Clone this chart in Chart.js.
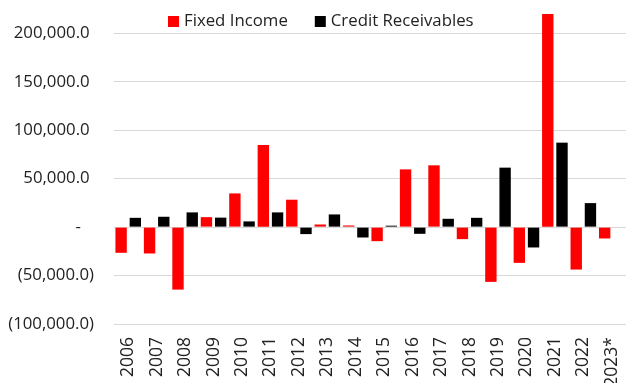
<!DOCTYPE html>
<html>
<head>
<meta charset="utf-8">
<script src="https://cdn.jsdelivr.net/npm/chart.js@4"></script>
<style>
  html, body { margin: 0; padding: 0; background: #ffffff; }
  #wrap { width: 626px; height: 383px; }
</style>
</head>
<body>
<div id="wrap"><canvas id="chart" width="626" height="383"></canvas></div>
<script>
// Annual flows by year
const years = ['2006', '2007', '2008', '2009', '2010', '2011', '2012', '2013', '2014',
               '2015', '2016', '2017', '2018', '2019', '2020', '2021', '2022', '2023*'];
const fixedIncome = [-26500, -27200, -64500, 10300, 34800, 84800, 28300, 2700, 1700,
                     -14500, 59600, 63800, -12400, -56500, -36900, 220000, -43800, -11700];
const creditReceivables = [9600, 10700, 15200, 9800, 5900, 15200, -7200, 13100, -10700,
                           1500, -6900, 8600, 9600, 61400, -21000, 87200, 24800, null];
const yTicks = [-100000, -50000, 0, 50000, 100000, 150000, 200000];
const yMin = -100000;
const yMax = 220000;

const FONT_FAMILY = "'Open Sans', 'Noto Sans', sans-serif";
const X_TICK_SIZE = 17.5;
const Y_TICK_SIZE = 16.8;
const LEGEND_SIZE = 16.8;
const TEXT_COLOR = '#222222';

// Accounting-style number: 50,000.0 / (50,000.0) / -
function accounting(v) {
  if (v === 0) return '-   ';
  const abs = Math.abs(v);
  const whole = Math.floor(abs).toString().replace(/\B(?=(\d{3})+(?!\d))/g, ',');
  const dec = Math.round((abs - Math.floor(abs)) * 10);
  const s = whole + '.' + dec;
  return v < 0 ? '(' + s + ')' : s + ' ';
}

// Legend drawn across the top, overlapping the plot area
const topLegend = {
  id: 'topLegend',
  afterDraw(chart) {
    const ctx = chart.ctx;
    ctx.save();
    ctx.font = LEGEND_SIZE + 'px ' + FONT_FAMILY;
    ctx.textBaseline = 'middle';
    ctx.textAlign = 'left';
    let x = 168;
    const y = 21.5;
    chart.data.datasets.forEach(ds => {
      ctx.fillStyle = ds.backgroundColor;
      ctx.fillRect(x, y - 5.5, 11, 11);
      x += 16;
      ctx.fillStyle = TEXT_COLOR;
      ctx.fillText(ds.label, x, y);
      x += ctx.measureText(ds.label).width + 27;
    });
    ctx.restore();
  }
};

Chart.defaults.font.family = FONT_FAMILY;
Chart.defaults.color = TEXT_COLOR;

new Chart(document.getElementById('chart'), {
  type: 'bar',
  data: {
    labels: years,
    datasets: [
      {
        label: 'Fixed Income',
        data: fixedIncome,
        backgroundColor: '#ff0000',
        borderWidth: 0,
        categoryPercentage: 1.0,
        barPercentage: 0.8
      },
      {
        label: 'Credit Receivables',
        data: creditReceivables,
        backgroundColor: '#000000',
        borderWidth: 0,
        categoryPercentage: 1.0,
        barPercentage: 0.8
      }
    ]
  },
  options: {
    responsive: false,
    animation: false,
    devicePixelRatio: 1,
    layout: { padding: { top: 14, right: 0, bottom: 0, left: 0 } },
    plugins: {
      legend: { display: false },
      tooltip: { enabled: false }
    },
    scales: {
      x: {
        grid: { display: false, drawTicks: false },
        border: { display: false },
        ticks: {
          autoSkip: false,
          maxRotation: 90,
          minRotation: 90,
          padding: 13,
          color: TEXT_COLOR,
          font: { size: X_TICK_SIZE }
        },
        afterFit(scale) {
          scale.height = 59;
          scale.paddingLeft = 0;
          scale.paddingRight = 0;
        }
      },
      y: {
        min: yMin,
        max: yMax,
        afterBuildTicks(scale) {
          scale.ticks = yTicks.map(v => ({ value: v }));
        },
        grid: { color: '#d9d9d9', lineWidth: 1, drawTicks: false },
        border: { display: false },
        ticks: {
          padding: 20,
          color: TEXT_COLOR,
          font: { size: Y_TICK_SIZE },
          callback: v => accounting(v)
        },
        afterFit(scale) {
          scale.width = 114;
          scale.paddingTop = 0;
          scale.paddingBottom = 0;
        }
      }
    }
  },
  plugins: [topLegend]
});
</script>
</body>
</html>
